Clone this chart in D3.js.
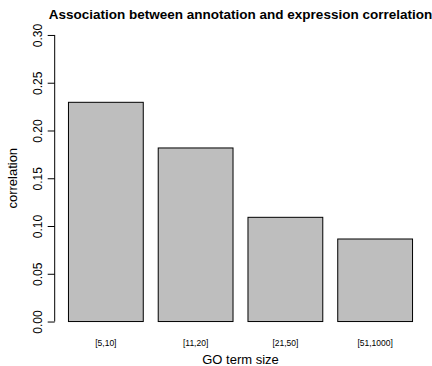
<!DOCTYPE html>
<html>
<head>
<meta charset="utf-8">
<script src="https://cdn.jsdelivr.net/npm/d3@7"></script>
<style>
  html, body { margin: 0; padding: 0; background: #fff; }
  svg { display: block; font-family: "Liberation Sans", Arial, Helvetica, sans-serif; }
</style>
</head>
<body>
<svg id="chart" width="432" height="366"></svg>
<script>
const categories = ["[5,10]", "[11,20]", "[21,50]", "[51,1000]"];
const correlations = [0.2295, 0.1817, 0.1091, 0.0864];
const yTicks = [0, 0.05, 0.10, 0.15, 0.20, 0.25, 0.30];
const titleText = "Association between annotation and expression correlation";
const xLabel = "GO term size";
const yLabel = "correlation";

const svg = d3.select("#chart");
// plot region (R-style, with 4% axis expansion)
const plotL = 54.7, plotR = 426.3, plotT = 23.5, plotB = 333;

const n = categories.length;
const xMin = 0.2, xMax = n * 1.2;
const xPad = (xMax - xMin) * 0.04;
const x = d3.scaleLinear().domain([xMin - xPad, xMax + xPad]).range([plotL, plotR]);
const yPad = 0.3 * 0.04;
const y = d3.scaleLinear().domain([-yPad, 0.3 + yPad]).range([plotB, plotT]);

// bars
svg.append("g").selectAll("rect").data(correlations).join("rect")
  .attr("x", (d, i) => x(0.2 + i * 1.2))
  .attr("width", (d, i) => x(1.2 + i * 1.2) - x(0.2 + i * 1.2))
  .attr("y", d => y(d))
  .attr("height", d => y(0) - y(d))
  .attr("fill", "#bebebe")
  .attr("stroke", "#000")
  .attr("stroke-width", 1);

// y axis
const yAxis = d3.axisLeft(y).tickValues(yTicks).tickFormat(d3.format(".2f")).tickSizeOuter(0).tickSize(7);
const gy = svg.append("g").attr("transform", `translate(${plotL},0)`).call(yAxis);
gy.select(".domain").attr("d", `M0,${y(0)}V${y(0.3)}`).attr("stroke", "#000");
gy.selectAll(".tick line").attr("stroke", "#000");
gy.selectAll(".tick text")
  .attr("font-size", 12)
  .attr("font-family", "Liberation Sans, Arial, sans-serif")
  .attr("fill", "#000")
  .attr("x", null).attr("dy", null)
  .attr("text-anchor", "middle")
  .attr("transform", "translate(-12.5,0) rotate(-90)");

// x category labels
svg.append("g").selectAll("text").data(categories).join("text")
  .attr("x", (d, i) => x(0.7 + i * 1.2))
  .attr("y", 346)
  .attr("text-anchor", "middle")
  .attr("font-size", 8.5)
  .attr("fill", "#000")
  .text(d => d);

// title
svg.append("text")
  .attr("x", (plotL + plotR) / 2)
  .attr("y", 19)
  .attr("text-anchor", "middle")
  .attr("font-size", 13.5)
  .attr("font-weight", "bold")
  .attr("fill", "#000")
  .text(titleText);

// x label
svg.append("text")
  .attr("x", (plotL + plotR) / 2)
  .attr("y", 364)
  .attr("text-anchor", "middle")
  .attr("font-size", 13)
  .attr("fill", "#000")
  .text(xLabel);

// y label
svg.append("text")
  .attr("transform", `translate(17,${(plotT + plotB) / 2}) rotate(-90)`)
  .attr("text-anchor", "middle")
  .attr("font-size", 13)
  .attr("fill", "#000")
  .text(yLabel);
</script>
</body>
</html>
